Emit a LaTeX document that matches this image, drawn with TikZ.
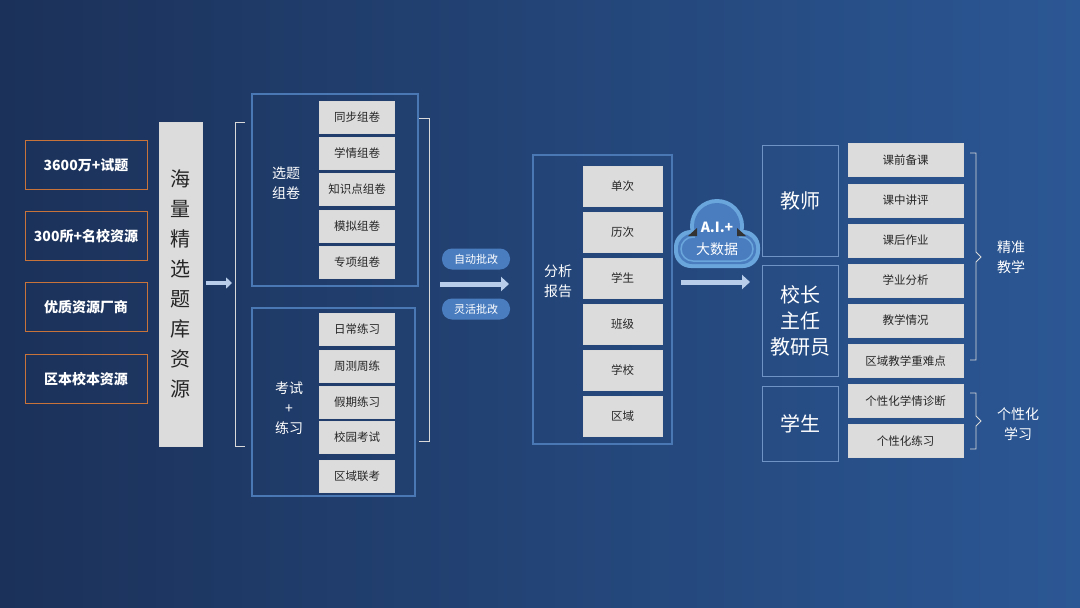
\documentclass[tikz,border=0pt]{standalone}
\usepackage{fontspec}
\setmainfont{Noto Sans CJK SC}
\usetikzlibrary{arrows.meta,decorations.pathreplacing}
\definecolor{bgL}{HTML}{1B3159}
\definecolor{bgR}{HTML}{2B5794}
\definecolor{orangeline}{HTML}{C8733A}
\definecolor{grayfill}{HTML}{DCDCDC}
\definecolor{frameline}{HTML}{4A78B5}
\definecolor{pillblue}{HTML}{4A7DC0}
\definecolor{arrowblue}{HTML}{B8CDEA}
\definecolor{cloudedge}{HTML}{6AA6DC}
\tikzset{
  src/.style={draw=orangeline, line width=1pt, minimum width=122pt, minimum height=49pt,
    text=white, font=\fontsize{14}{16}\selectfont\bfseries},
  item/.style={draw=white!85!black, fill=grayfill, minimum width=75pt, minimum height=32pt,
    font=\fontsize{11.5}{13}\selectfont, text=black!85},
  frame/.style={draw=frameline, line width=1.2pt},
  role/.style={draw=frameline!80!white, line width=0.8pt, minimum width=76pt,
    text=white, font=\fontsize{20}{26}\selectfont, align=center},
  lbl/.style={text=white, font=\fontsize{14}{20}\selectfont, align=center},
  pill/.style={fill=pillblue, rounded corners=10pt, minimum width=68pt, minimum height=21pt,
    text=white, font=\fontsize{11}{13}\selectfont},
  bigarrow/.style={-{Triangle[length=8pt,width=14pt]}, line width=5pt, draw=arrowblue},
  brk/.style={draw=white!85!black, line width=0.8pt}
}
\begin{document}
\begin{tikzpicture}[x=1pt, y=-1pt]
  \shade[left color=bgL, right color=bgR] (0,0) rectangle (1080,608);
  \useasboundingbox (0,0) rectangle (1080,608);

  % sources
  \node[src] (s1) at (86,165) {3600万+试题};
  \node[src] (s2) at (86,236) {300所+名校资源};
  \node[src] (s3) at (86,307) {优质资源厂商};
  \node[src] (s4) at (86,379) {区本校本资源};
  \node[draw=white!85!black, fill=grayfill, minimum width=43pt, minimum height=324pt,
    text=black!85, font=\fontsize{20}{30}\selectfont, align=center] (bank) at (180.5,284)
    {海\\量\\精\\选\\题\\库\\资\\源};
  \coordinate (a1s) at (206,283);
  \coordinate (a1e) at (232,283);
  \draw[-{Triangle[length=6pt,width=11pt]}, line width=4pt, draw=arrowblue] (a1s) -- (a1e);

  % brackets
  \draw[brk] (245,122) -- (235,122) -- (235,446) -- (245,446);
  \draw[brk] (419,118) -- (429,118) -- (429,441) -- (419,441);

  % selection group
  \draw[frame] (252,94) rectangle (418,286);
  \node[lbl] (sel) at (286,183) {选题\\组卷};
  \foreach \t [count=\i] in {同步组卷,学情组卷,知识点组卷,模拟组卷,专项组卷}
    \node[item] (p\i) at (357,80.5+36.3*\i) {\t};

  % exam group
  \draw[frame] (252,308) rectangle (415,496);
  \node[lbl] (exam) at (289,408) {考试\\+\\练习};
  \node[item] (e1) at (357,329) {日常练习};
  \node[item] (e2) at (357,366) {周测周练};
  \node[item] (e3) at (357,402) {假期练习};
  \node[item] (e4) at (357,437) {校园考试};
  \node[item] (e5) at (357,476) {区域联考};

  % marking
  \node[pill] (auto) at (476,259) {自动批改};
  \node[pill] (flex) at (476,309) {灵活批改};
  \coordinate (a2s) at (440,284);
  \coordinate (a2e) at (509,284);
  \draw[bigarrow] (a2s) -- (a2e);

  % analysis
  \draw[frame] (533,155) rectangle (672,444);
  \node[lbl] (ana) at (558,281) {分析\\报告};
  \foreach \t [count=\i] in {单次,历次,学生,班级,学校,区域}
    \node[item, minimum width=79pt, minimum height=40pt] (r\i) at (622.5,140+46*\i) {\t};

  % cloud
  \fill[cloudedge] (717,226) circle (27);
  \fill[cloudedge, rounded corners=17pt] (674,230) rectangle (760,268);
  \fill[pillblue] (717,226) circle (23);
  \fill[pillblue, rounded corners=14pt] (678,234) rectangle (756,264);
  \draw[cloudedge, line width=1.5pt, rounded corners=12pt] (681,237) rectangle (753,261);
  \fill[pillblue] (695,236) rectangle (739,260);
  \fill[black!80] (688,236) -- (697,228) -- (697,236) -- cycle;
  \fill[black!80] (746,236) -- (737,228) -- (737,236) -- cycle;
  \node[text=white, font=\fontsize{14}{16}\selectfont\bfseries] (ai) at (717,227) {A.I.+};
  \node[text=white, font=\fontsize{14}{16}\selectfont] (big) at (717,249) {大数据};
  \coordinate (a3s) at (681,282);
  \coordinate (a3e) at (750,282);
  \draw[bigarrow] (a3s) -- (a3e);

  % roles
  \node[role, minimum height=111pt] (teach) at (800,200.5) {教师};
  \node[role, minimum height=111pt] (head) at (800,320.5) {校长\\主任\\教研员};
  \node[role, minimum height=75pt] (stu) at (800,423.5) {学生};
  \foreach \t [count=\i] in {课前备课,课中讲评,课后作业,学业分析,教学情况,区域教学重难点,个性化学情诊断,个性化练习}
    \node[item, minimum width=115pt, minimum height=33pt] (u\i) at (905.5,120+40.1*\i) {\t};

  % braces
  \draw[brk] (970,153) -- (976,153) -- (976,252) -- (981,257) -- (976,262) -- (976,360) -- (970,360);
  \draw[brk] (970,393) -- (976,393) -- (976,416) -- (981,421) -- (976,426) -- (976,449) -- (970,449);
  \node[lbl] (prec) at (1011,257) {精准\\教学};
  \node[lbl] (pers) at (1018,424) {个性化\\学习};
\end{tikzpicture}
\end{document}
